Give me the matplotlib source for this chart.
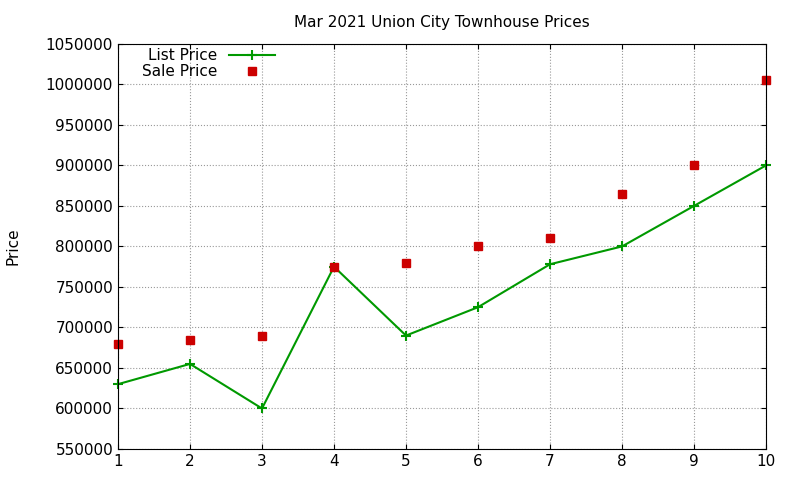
import matplotlib
matplotlib.use('Agg')
import matplotlib.pyplot as plt

# data
days = [1, 2, 3, 4, 5, 6, 7, 8, 9, 10]
list_price = [630000, 655000, 600000, 775000, 690000, 725000, 778000, 800000, 850000, 900000]
sale_price = [680000, 685000, 690000, 775000, 780000, 800000, 810000, 865000, 900000, 1005000]

fig = plt.figure(figsize=(8, 4.8), dpi=100)
ax = fig.add_axes([0.1475, 0.0646, 0.81, 0.844])

ax.plot(days, list_price, color='#009900', lw=1.5, marker='+', ms=7, mew=1.5,
        label='List Price', clip_on=False)
ax.plot(days, sale_price, ls='none', marker='s', ms=6, color='#cc0000',
        label='Sale Price', clip_on=False)

ax.set_xlim(1, 10)
ax.set_ylim(550000, 1050000)
ax.set_xticks(days)
ax.set_yticks(range(550000, 1050001, 50000))
ax.ticklabel_format(axis='y', style='plain')
ax.tick_params(direction='in', labelsize=11, top=True, right=True)
ax.grid(True, ls=':', color='#999999', lw=0.8)
ax.set_ylabel('Price', fontsize=11, labelpad=18)
ax.set_title('Mar 2021 Union City Townhouse Prices', fontsize=11, pad=12)

ax.legend(loc='upper left', bbox_to_anchor=(0.02, 1.015), frameon=False, markerfirst=False,
          fontsize=11, handlelength=3.0, borderpad=0.2, labelspacing=0.05)

fig.savefig('out.png', dpi=100)
